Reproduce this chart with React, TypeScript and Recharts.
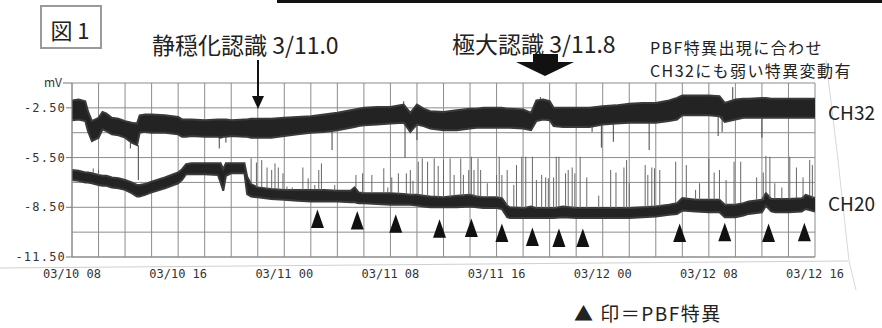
import React from 'react';
import { ComposedChart, Area, XAxis, YAxis, CartesianGrid, ReferenceLine, Scatter } from 'recharts';

// hours since 03/10 08:00
const hours = [0,0.5,1,1.2,1.5,2,2.3,2.6,3,3.5,4,4.5,4.9,5.1,5.5,6,7,8,8.3,8.6,9,10,11,11.2,11.4,11.6,12,13,13.2,13.5,14,15,16,17,18,19,20,21,21.3,21.6,22,23,24,25,25.5,26,26.5,27,28,29,30,30.5,31,32,32.4,32.8,33,34,34.6,35,35.5,36,36.3,37,38,39,40,41,42,43,44,45,45.6,46,47,48,48.8,49.2,50,50.6,51,52,52.3,52.7,53,54,55,55.3,56];

const ch32High = [-2.05,-2.0,-2.1,-2.7,-3.3,-3.1,-2.75,-2.85,-3.1,-3.15,
  -3.3,-3.4,-3.45,-2.95,-2.9,-2.9,-2.95,-3.05,-3.2,-3.2,
  -3.2,-3.25,-3.2,-3.2,-3.2,-3.2,-3.25,-3.2,-3.2,-3.15,
  -3.15,-3.15,-3.1,-3.05,-3.0,-2.9,-2.8,-2.65,-2.6,-2.55,
  -2.5,-2.45,-2.45,-2.3,-2.8,-2.3,-2.55,-2.7,-2.75,-2.65,
  -2.55,-2.55,-2.5,-2.5,-2.5,-2.55,-2.55,-2.6,-2.8,-2.05,
  -2.0,-2.1,-2.5,-2.5,-2.5,-2.5,-2.4,-2.35,-2.25,-2.2,
  -2.2,-2.05,-1.9,-1.75,-1.75,-1.75,-1.8,-2.2,-2.0,-1.95,
  -1.95,-1.9,-1.9,-1.95,-1.95,-1.95,-1.95,-1.95,-1.95];

const ch32Low = [-3.25,-3.2,-3.3,-3.9,-4.5,-4.3,-3.8,-3.9,-4.1,-4.15,
  -4.3,-4.6,-4.75,-4.0,-3.95,-4.0,-4.0,-4.1,-4.25,-4.25,
  -4.2,-4.25,-4.25,-4.3,-4.25,-4.25,-4.2,-4.25,-4.25,-4.3,
  -4.3,-4.3,-4.2,-4.1,-4.0,-3.95,-3.85,-3.7,-3.65,-3.6,
  -3.55,-3.5,-3.45,-3.4,-3.95,-3.5,-3.6,-3.75,-3.85,-3.85,
  -3.75,-3.7,-3.7,-3.7,-3.7,-3.7,-3.7,-3.75,-3.85,-3.3,
  -3.2,-3.25,-3.6,-3.65,-3.65,-3.65,-3.5,-3.45,-3.4,-3.4,
  -3.4,-3.3,-3.2,-2.95,-2.95,-2.95,-3.0,-3.35,-3.2,-3.1,
  -3.1,-3.1,-3.1,-3.1,-3.1,-3.1,-3.1,-3.1,-3.1];

const ch20High = [-6.25,-6.3,-6.4,-6.4,-6.45,-6.55,-6.6,-6.6,-6.7,-6.75,
  -6.85,-7.0,-7.15,-7.15,-7.1,-6.95,-6.7,-6.4,-6.2,-5.9,
  -5.85,-5.85,-5.85,-5.85,-6.2,-5.85,-5.85,-5.85,-6.65,-7.1,
  -7.3,-7.4,-7.45,-7.45,-7.45,-7.45,-7.5,-7.5,-7.3,-7.6,
  -7.65,-7.65,-7.65,-7.7,-7.75,-7.75,-7.8,-7.85,-7.9,-7.8,
  -7.75,-7.85,-7.9,-7.9,-7.95,-8.4,-8.5,-8.55,-8.45,-8.55,
  -8.55,-8.55,-8.55,-8.45,-8.55,-8.55,-8.55,-8.55,-8.55,-8.5,
  -8.45,-8.35,-8.25,-7.95,-8.05,-8.05,-8.05,-8.35,-8.35,-8.25,
  -8.15,-8.05,-7.65,-8.0,-8.0,-8.0,-7.95,-7.75,-7.95];

const ch20Low = [-6.85,-6.9,-7.0,-7.0,-7.05,-7.15,-7.2,-7.2,-7.3,-7.35,
  -7.45,-7.65,-7.85,-7.85,-7.75,-7.6,-7.35,-7.05,-6.85,-6.5,
  -6.5,-6.5,-6.55,-7.0,-7.5,-6.6,-6.45,-6.45,-7.7,-7.85,
  -7.9,-8.0,-8.05,-8.1,-8.15,-8.15,-8.15,-8.2,-8.2,-8.25,
  -8.25,-8.3,-8.35,-8.35,-8.35,-8.4,-8.45,-8.5,-8.5,-8.5,
  -8.45,-8.5,-8.55,-8.55,-8.6,-9.1,-9.15,-9.15,-9.15,-9.15,
  -9.15,-9.15,-9.15,-9.1,-9.15,-9.15,-9.15,-9.15,-9.15,-9.1,
  -9.05,-8.95,-8.9,-8.7,-8.75,-8.8,-8.8,-9.1,-9.1,-9.0,
  -8.9,-8.8,-8.4,-8.75,-8.8,-8.8,-8.75,-8.6,-8.75];

// thin upward spikes on CH20 (hour, peak value)
const ch20SpikeHours = [1.6,2.0,13.5,13.9,14.3,14.7,15.05,15.3,15.55,15.9,16.2,16.6,17.4,17.8,18.3,18.6,18.8,19.8,21.4,21.9,22.6,23.5,23.8,24.1,24.6,25.2,25.5,25.7,26.1,26.4,26.8,27.3,27.6,28.0,28.5,28.8,29.3,29.5,29.9,30.1,30.3,30.6,30.8,31.3,32.0,32.2,32.4,32.8,33.3,33.5,33.9,34.2,34.7,35.0,35.4,35.7,35.9,36.3,36.5,36.7,37.2,37.4,37.7,37.9,38.3,38.8,39.7,40.6,41.0,41.6,41.8,42.0,43.2,43.4,43.7,43.9,44.3,45.5,46.3,47.0,47.3,48.0,48.4,48.8,49.3,49.9,50.4,51.6,52.1,52.3,52.6,52.97,53.5,54.1,54.6,55.1,55.6,55.8];
const ch20SpikePeaks = [-6.15,-6.25,-5.55,-5.8,-5.65,-6.1,-6.25,-5.85,-6.1,-6.45,-7.25,-7.3,-6.1,-6.75,-7.15,-6.25,-5.85,-7.15,-6.55,-6.45,-6.55,-6.15,-7.3,-6.7,-6.45,-6.45,-6.25,-6.9,-5.75,-5.55,-5.75,-5.55,-6.0,-5.65,-5.55,-6.55,-5.55,-6.55,-6.25,-5.45,-6.25,-5.55,-6.25,-7.05,-6.55,-5.45,-6.55,-6.25,-7.15,-5.95,-5.45,-5.45,-5.45,-6.85,-6.55,-6.7,-6.75,-6.7,-5.45,-5.45,-6.45,-6.25,-6.1,-6.45,-5.45,-6.7,-7.8,-6.25,-6.4,-6.1,-5.65,-7.05,-5.95,-6.55,-6.1,-6.15,-6.25,-5.75,-5.95,-7.45,-7.05,-5.55,-6.4,-6.25,-6.85,-5.75,-5.75,-6.7,-6.4,-5.4,-5.45,-7.05,-7.3,-5.45,-6.1,-6.7,-5.65,-5.95];

// thin spikes on CH32 (hour, end value)
const ch32SpikeHours = [4.4,5.0,11.1,11.6,19.6,25.0,25.1,26.0,35.3,39.2,39.9,40.8,43.5,48.7,49.0,49.8,52.0];
const ch32SpikeEnds = [-4.95,-6.85,-4.95,-4.6,-5.05,-2.1,-5.5,-4.45,-1.85,-3.95,-4.9,-4.55,-5.05,-4.2,-3.95,-1.25,-4.3];

// PBF anomaly markers (▲)
const pbfHours = [18.5,21.5,24.4,27.7,30.1,32.4,34.7,36.7,38.5,45.8,49.2,52.5,55.2];
const pbfLevels = [-9.2,-9.3,-9.5,-9.8,-9.75,-10.05,-10.3,-10.35,-10.35,-10.05,-10.0,-10.05,-10.0];

const xTicks = [0,2,4,6,8,10,12,14,16,18,20,22,24,26,28,30,32,34,36,38,40,42,44,46,48,50,52,54,56];
const xLabelHours = [0,8,16,24,32,40,48,56];
const xLabelTexts = ['03/10 08','03/10 16','03/11 00','03/11 08','03/11 16','03/12 00','03/12 08','03/12 16'];

const yTicks = [-11.5,-10,-8.5,-7,-5.5,-4,-2.5,-1];
const yLabelValues = [-1,-2.5,-5.5,-8.5,-11.5];
const yLabelTexts = ['mV','-2.50','-5.50','-8.50','-11.50'];

const data = hours.map((t, i) => ({ t, ch32: [ch32Low[i], ch32High[i]], ch20: [ch20Low[i], ch20High[i]] }));
const pbfData = pbfHours.map((t, i) => ({ t, y: pbfLevels[i] }));

const nearest = (t: number) => {
  let best = 0;
  for (let i = 1; i < hours.length; i++) if (Math.abs(hours[i] - t) < Math.abs(hours[best] - t)) best = i;
  return best;
};

const ch20Spikes = ch20SpikeHours.map((t, i) => ({ t, from: ch20High[nearest(t)], to: ch20SpikePeaks[i] }));
const ch32Spikes = ch32SpikeHours.map((t, i) => {
  const k = nearest(t);
  const end = ch32SpikeEnds[i];
  return { t, from: end < ch32Low[k] ? ch32Low[k] : ch32High[k], to: end };
});

const MONO = '"DejaVu Sans Mono", "Liberation Mono", monospace';
const JP = '"Noto Sans CJK JP", "Noto Sans", sans-serif';

const XTick = (props: any) => {
  const { x, y, payload } = props;
  const idx = xLabelHours.indexOf(payload.value);
  if (idx < 0) return <g />;
  return (
    <text x={x} y={y + 17} textAnchor="middle" dominantBaseline="central" fontFamily={MONO} fontSize={12} fill="#333">
      {xLabelTexts[idx]}
    </text>
  );
};

const YTick = (props: any) => {
  const { x, y, payload } = props;
  const idx = yLabelValues.indexOf(payload.value);
  if (idx < 0) return <g />;
  const isUnit = idx === 0;
  return (
    <g>
      <line x1={x - (isUnit ? 9 : 6)} x2={x} y1={y} y2={y} stroke="#777" strokeWidth={1} />
      <text
        x={x - (isUnit ? 10 : 6)}
        y={isUnit ? y - 2 : y}
        textAnchor="end"
        dominantBaseline="central"
        fontFamily={isUnit ? JP : MONO}
        fontSize={12}
        letterSpacing={isUnit ? 0 : 1.2}
        fill="#333"
      >
        {yLabelTexts[idx]}
      </text>
    </g>
  );
};

const Tri = (props: any) => {
  const { cx, cy } = props;
  if (cx == null || cy == null) return <g />;
  return <polygon points={`${cx},${cy - 9.5} ${cx + 6.5},${cy + 9} ${cx - 6.5},${cy + 9}`} fill="#111" />;
};

export default function App() {
  return (
    <div style={{ position: 'absolute', left: 0, top: 0, width: 882, height: 328, background: '#fff', overflow: 'hidden' }}>
      <ComposedChart width={882} height={328} data={data} margin={{ top: 83, right: 67, bottom: 41, left: 12 }}>
        <CartesianGrid stroke="#8c8c8c" strokeWidth={1} />
        <XAxis
          dataKey="t"
          type="number"
          domain={[0, 56]}
          ticks={xTicks}
          interval={0}
          height={30}
          tickSize={0}
          tickMargin={0}
          tickLine={false}
          axisLine={{ stroke: '#8c8c8c' }}
          tick={<XTick />}
          allowDataOverflow
        />
        <YAxis
          type="number"
          domain={[-11.5, -1]}
          ticks={yTicks}
          interval={0}
          width={60}
          tickSize={0}
          tickMargin={0}
          tickLine={false}
          axisLine={{ stroke: '#8c8c8c' }}
          tick={<YTick />}
          allowDataOverflow
        />
        <Area dataKey="ch32" type="linear" stroke="#3a3a3a" strokeWidth={2} fill="#232323" fillOpacity={1} isAnimationActive={false} dot={false} activeDot={false} />
        <Area dataKey="ch20" type="linear" stroke="#3a3a3a" strokeWidth={2} fill="#232323" fillOpacity={1} isAnimationActive={false} dot={false} activeDot={false} />
        {ch20Spikes.map((s, i) => (
          <ReferenceLine key={'s20' + i} segment={[{ x: s.t, y: s.from }, { x: s.t, y: s.to }]} stroke="#666" strokeWidth={1} />
        ))}
        {ch32Spikes.map((s, i) => (
          <ReferenceLine key={'s32' + i} segment={[{ x: s.t, y: s.from }, { x: s.t, y: s.to }]} stroke="#444" strokeWidth={1} />
        ))}
        <Scatter data={pbfData} dataKey="y" shape={<Tri />} isAnimationActive={false} />
      </ComposedChart>

      <svg width={882} height={328} style={{ position: 'absolute', left: 0, top: 0, pointerEvents: 'none' }}>
        <rect x={277} y={0} width={605} height={3} fill="#111" />
        <line x1={0} y1={268} x2={848} y2={261} stroke="#cfcfcf" strokeWidth={1} />
        <polyline points="826,60 838,160 849,261 856,290" fill="none" stroke="#d8d8d8" strokeWidth={1} />

        <rect x={41} y={6} width={60} height={42} fill="none" stroke="#9a9a9a" strokeWidth={2} />
        <text x={70} y={29} textAnchor="middle" dominantBaseline="central" fontFamily={JP} fontSize={22} fill="#222">図 1</text>

        <text x={152} y={44} dominantBaseline="central" fontFamily={JP} fontSize={23} fill="#222">静穏化認識 3/11.0</text>
        <line x1={258} y1={60} x2={258} y2={100} stroke="#111" strokeWidth={2} />
        <polygon points="252,96 264,96 258,109" fill="#111" />

        <text x={452} y={43} dominantBaseline="central" fontFamily={JP} fontSize={23} fill="#222">極大認識 3/11.8</text>
        <rect x={533} y={54} width={25} height={9} fill="#111" />
        <polygon points="516,62 574,62 545,76" fill="#111" />

        <text x={650} y={47} dominantBaseline="central" fontFamily={JP} fontSize={16} letterSpacing={1.4} fill="#222">PBF特異出現に合わせ</text>
        <text x={650} y={70} dominantBaseline="central" fontFamily={JP} fontSize={16} letterSpacing={1.4} fill="#222">CH32にも弱い特異変動有</text>

        <text x={828} y={111} dominantBaseline="central" fontFamily={JP} fontSize={19} fill="#222">CH32</text>
        <text x={828} y={202} dominantBaseline="central" fontFamily={JP} fontSize={19} fill="#222">CH20</text>

        <text x={574} y={312} dominantBaseline="central" fontFamily={JP} fontSize={19} letterSpacing={1.5} fill="#222">▲ 印＝PBF特異</text>
      </svg>
    </div>
  );
}
